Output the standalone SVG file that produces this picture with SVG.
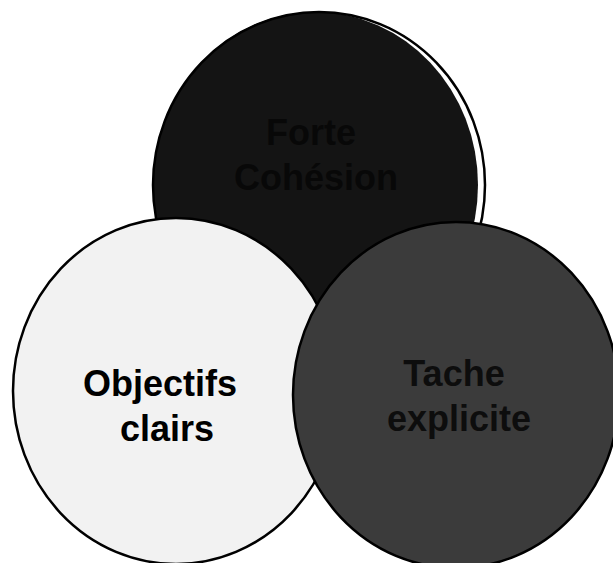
<svg xmlns="http://www.w3.org/2000/svg" width="613" height="563" viewBox="0 0 613 563">
  <style>
    .outline { fill: none; stroke: #000; stroke-width: 2.5; }
    .shape { stroke: #000; stroke-width: 2.5; }
    .label { font-family: "Liberation Sans", Arial, sans-serif; font-size: 36px; font-weight: bold; text-anchor: middle; }
  </style>
  <rect x="0" y="0" width="613" height="563" fill="#fff"/>

  <!-- Top circle: fill slightly narrower than its outline -->
  <g id="forte-cohesion">
    <ellipse cx="315.5" cy="185" rx="162.5" ry="173" fill="#141414"/>
    <ellipse class="outline" cx="319" cy="185" rx="166" ry="173"/>
    <text class="label" fill="#080808">
      <tspan x="316" y="145">Forte</tspan>
      <tspan x="316" y="190">Cohésion</tspan>
    </text>
  </g>

  <!-- Left circle -->
  <g id="objectifs-clairs">
    <ellipse class="shape" cx="176" cy="391" rx="163" ry="173" fill="#f2f2f2"/>
    <text class="label" fill="#000">
      <tspan x="165" y="396">Objectifs</tspan>
      <tspan x="167" y="441">clairs</tspan>
    </text>
  </g>

  <!-- Right circle -->
  <g id="tache-explicite">
    <ellipse class="shape" cx="456" cy="395" rx="163" ry="173" fill="#3b3b3b"/>
    <text class="label" fill="#0d0d0d">
      <tspan x="459" y="386">Tache</tspan>
      <tspan x="459" y="431">explicite</tspan>
    </text>
  </g>

  <g id="connectors"/>
</svg>
